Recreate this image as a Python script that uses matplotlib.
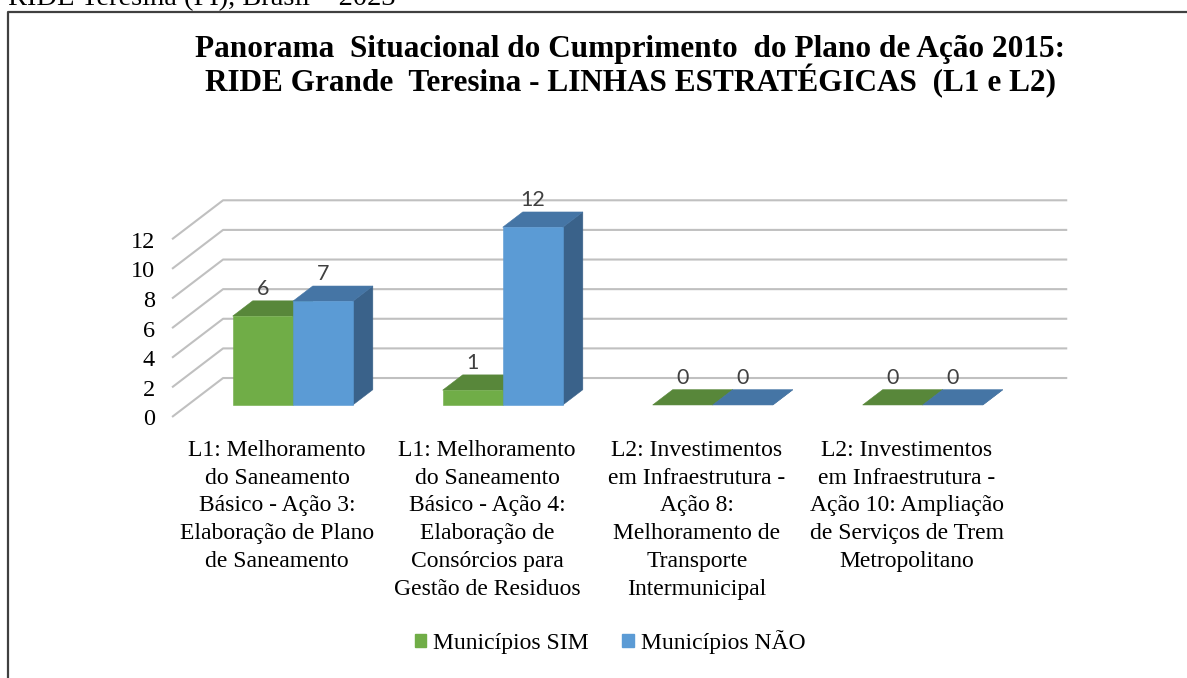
import matplotlib.pyplot as plt
from matplotlib.patches import Polygon, Rectangle, Patch
from matplotlib.lines import Line2D
from matplotlib.transforms import offset_copy

plt.rcParams["font.family"] = ["Liberation Serif", "DejaVu Serif"]

# Data entry
categories = [
    "L1: Melhoramento\ndo Saneamento\nBásico - Ação 3:\nElaboração de Plano\nde Saneamento",
    "L1: Melhoramento\ndo Saneamento\nBásico - Ação 4:\nElaboração de\nConsórcios para\nGestão de Residuos",
    "L2: Investimentos\nem Infraestrutura -\nAção 8:\nMelhoramento de\nTransporte\nIntermunicipal",
    "L2: Investimentos\nem Infraestrutura -\nAção 10: Ampliação\nde Serviços de Trem\nMetropolitano",
]
sim = [6, 1, 0, 0]
nao = [7, 12, 0, 0]
series_names = ["Municípios SIM", "Municípios NÃO"]
yticks = [0, 2, 4, 6, 8, 10, 12]

title = ("Panorama  Situacional do Cumprimento  do Plano de Ação 2015:\n"
         "RIDE Grande  Teresina - LINHAS ESTRATÉGICAS  (L1 e L2)")
caption = "RIDE Teresina (PI), Brasil – 2023"

# colours (front, top, side)
green = ("#70ad47", "#58873a", "#4e7a33")
blue = ("#5b9bd5", "#4575a5", "#3a628a")
grid_color = "#c0c0c0"

W, H, DPI = 1187, 678, 100
fig = plt.figure(figsize=(W / DPI, H / DPI), dpi=DPI)

# plot box in pixels, limits give the front plane of the 3D chart
left, right, top, bottom = 150, 1100, 180, 430
ax = fig.add_axes([left / W, 1 - bottom / H, (right - left) / W, (bottom - top) / H])
ax.set_xlim(-0.605, 3.919)
ax.set_ylim(-0.88, 16.0)
ax.axis("off")

# fake 3D: depth vector of the floor / side wall
DX, DY = 0.243, 2.63
x_wall0, x_wall1 = -0.5, 3.52
t0, t1 = 0.308, 0.70      # where the bars sit in the depth
bw = 0.286                 # bar width

# gridlines on the side wall and back wall
for v in yticks:
    ax.plot([x_wall0, x_wall0 + DX, x_wall1 + DX], [v, v + DY, v + DY],
            color=grid_color, lw=1.5, zorder=1, solid_capstyle="butt")

lab_tr = offset_copy(ax.transData, fig=fig, y=2, units="dots")
tick_tr = offset_copy(ax.transData, fig=fig, x=-17, y=-3, units="dots")
cat_tr = offset_copy(ax.transData, fig=fig, y=-23, units="dots")


def bar3d(xl, h, cols):
    ox, oy = t0 * DX, t0 * DY
    dx, dy = (t1 - t0) * DX, (t1 - t0) * DY
    xa, xb = xl + ox, xl + bw + ox
    kw = dict(lw=0.4, zorder=3)
    ax.add_patch(Polygon([(xb, oy), (xb + dx, oy + dy), (xb + dx, h + oy + dy), (xb, h + oy)],
                         fc=cols[2], ec=cols[2], **kw))
    ax.add_patch(Polygon([(xa, h + oy), (xb, h + oy), (xb + dx, h + oy + dy), (xa + dx, h + oy + dy)],
                         fc=cols[1], ec=cols[1], **kw))
    if h > 0:
        ax.add_patch(Rectangle((xa, oy), bw, h, fc=cols[0], ec=cols[0], **kw))
    ax.text(xa + bw / 2, h + t1 * DY, f"{h}", ha="center", va="bottom",
            fontsize=15.5, color="#404040", family=["Lato", "DejaVu Sans"],
            transform=lab_tr, zorder=5)


for i in range(len(categories)):
    bar3d(i - bw, sim[i], green)
    bar3d(i, nao[i], blue)
    ax.text(i, 0, categories[i], ha="center", va="top", multialignment="center",
            fontsize=17, linespacing=1.42, transform=cat_tr)

for v in yticks:
    ax.text(x_wall0, v, str(v), ha="right", va="center", fontsize=17.5, transform=tick_tr)

# title, caption, legend
fig.text(0.531, 1 - 34.5 / H, title, ha="center", va="top", fontsize=22.5,
         fontweight="bold", linespacing=1.03)
fig.text(8 / W, 1 - 5 / H, caption, ha="left", va="baseline", fontsize=20.5)

handles = [Patch(color=green[0]), Patch(color=blue[0])]
fig.legend(handles, series_names, loc="center", bbox_to_anchor=(0.514, 0.053),
           ncol=2, frameon=False, fontsize=17, handlelength=0.5, handleheight=0.5,
           handletextpad=0.3, columnspacing=1.4)

# box around the chart
fig.add_artist(Line2D([8 / W, 8 / W, 1], [0, 1 - 12 / H, 1 - 12 / H],
                      transform=fig.transFigure, color="#404040", lw=1.6))

fig.savefig("out.png", dpi=DPI)
